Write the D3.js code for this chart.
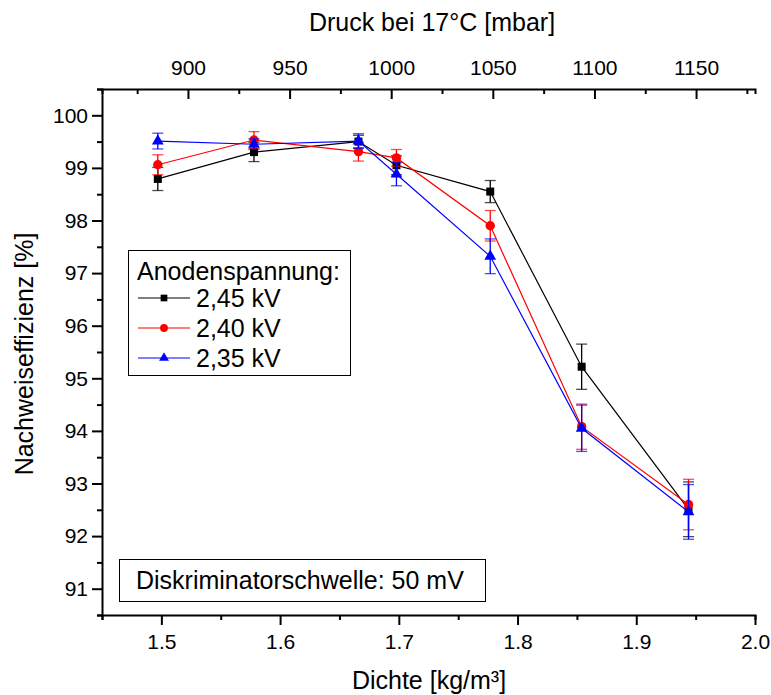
<!DOCTYPE html>
<html><head><meta charset="utf-8">
<script src="https://cdn.jsdelivr.net/npm/d3@7"></script>
<style>body{margin:0;background:#fff;} svg{display:block;} text{font-family:"Liberation Sans",Arial,sans-serif;}</style>
</head><body><svg id="c" width="771" height="695"></svg>
<script>
const density = [1.497, 1.578, 1.666, 1.698, 1.777, 1.854, 1.944];
const seriesNames = ["2,45 kV", "2,40 kV", "2,35 kV"];
const seriesColors = ["#000000", "#ff0000", "#0000ff"];
const eff245 = [98.79, 99.30, 99.50, 99.05, 98.55, 95.22, 92.51];
const err245 = [0.22, 0.18, 0.12, 0.18, 0.21, 0.43, 0.52];
const eff240 = [99.06, 99.53, 99.31, 99.19, 97.90, 94.08, 92.60];
const err240 = [0.19, 0.16, 0.18, 0.16, 0.29, 0.43, 0.48];
const eff235 = [99.51, 99.45, 99.51, 98.88, 97.32, 94.05, 92.46];
const err235 = [0.15, 0.10, 0.14, 0.22, 0.33, 0.44, 0.52];
const xTicks = [1.5, 1.6, 1.7, 1.8, 1.9, 2.0];
const yTicks = [91, 92, 93, 94, 95, 96, 97, 98, 99, 100];
const pTicks = [900, 950, 1000, 1050, 1100, 1150];

const svg = d3.select("#c");
const L = 102, R = 755, T = 89, B = 615;
const x = d3.scaleLinear().domain([1.45, 2.0]).range([L, R]);
const xp = d3.scaleLinear().domain([857.7, 1179.0]).range([L, R]);
const y = d3.scaleLinear().domain([90.5, 100.5]).range([B, T]);

// axes
const gBottom = svg.append("g").attr("transform", `translate(0,${B})`);
gBottom.call(d3.axisBottom(x).tickValues(d3.range(1.45, 2.001, 0.05)).tickSize(5).tickFormat(""));
gBottom.call(g => g.selectAll(".tick line").filter(d => xTicks.some(t => Math.abs(t - d) < 1e-6)).attr("y2", 10));
const gBl = svg.append("g").attr("transform", `translate(0,${B})`);
gBl.call(d3.axisBottom(x).tickValues(xTicks).tickSize(0).tickPadding(19).tickFormat(d3.format(".1f")));
gBl.select(".domain").remove();

const gLeft = svg.append("g").attr("transform", `translate(${L},0)`);
gLeft.call(d3.axisLeft(y).tickValues(d3.range(90.5, 100.51, 0.5)).tickSize(5).tickFormat(""));
gLeft.call(g => g.selectAll(".tick line").filter(d => Math.abs(d - Math.round(d)) < 1e-6).attr("x2", -10));
const gLl = svg.append("g").attr("transform", `translate(${L},0)`);
gLl.call(d3.axisLeft(y).tickValues(yTicks).tickSize(0).tickPadding(14).tickFormat(d3.format("d")));
gLl.select(".domain").remove();

const gTop = svg.append("g").attr("transform", `translate(0,${T})`);
gTop.call(d3.axisBottom(xp).tickValues(d3.range(875, 1176, 25)).tickSize(5).tickFormat(""));
gTop.call(g => g.selectAll(".tick line").filter(d => d % 50 === 0).attr("y2", 10));
const gTl = svg.append("g").attr("transform", `translate(0,${T})`);
gTl.call(d3.axisTop(xp).tickValues(pTicks).tickSize(0).tickPadding(14).tickFormat(d3.format("d")));
gTl.select(".domain").remove();

svg.selectAll(".domain").attr("stroke", "#000").attr("stroke-width", 2);
svg.selectAll(".tick line").attr("stroke", "#000").attr("stroke-width", 2);
svg.selectAll(".tick text").attr("font-size", 21).attr("fill", "#000").attr("font-family", "Liberation Sans, Arial, sans-serif");

// axis titles
svg.append("text").attr("x", 429).attr("y", 689).attr("text-anchor", "middle").attr("font-size", 25).text("Dichte [kg/m³]");
svg.append("text").attr("x", 432).attr("y", 31).attr("text-anchor", "middle").attr("font-size", 25).text("Druck bei 17°C [mbar]");
svg.append("text").attr("transform", `translate(33,${(T+B)/2 + 2}) rotate(-90)`).attr("text-anchor", "middle").attr("font-size", 25).text("Nachweiseffizienz [%]");

// data
const series = [
  {name: seriesNames[0], color: seriesColors[0], vals: eff245, errs: err245, sym: d3.symbolSquare, size: 64},
  {name: seriesNames[1], color: seriesColors[1], vals: eff240, errs: err240, sym: d3.symbolCircle, size: 70},
  {name: seriesNames[2], color: seriesColors[2], vals: eff235, errs: err235, sym: d3.symbolTriangle, size: 60}
];
const line = d3.line().x(d => x(d[0])).y(d => y(d[1]));
series.forEach(s => {
  const g = svg.append("g");
  const pts = density.map((d, i) => [d, s.vals[i], s.errs[i]]);
  g.append("path").attr("d", line(pts)).attr("fill", "none").attr("stroke", s.color).attr("stroke-width", 1.2);
  pts.forEach(p => {
    const cx = x(p[0]), y1 = y(p[1] + p[2]), y2 = y(p[1] - p[2]);
    g.append("line").attr("x1", cx).attr("x2", cx).attr("y1", y1).attr("y2", y2).attr("stroke", s.color).attr("stroke-width", 1.3);
    [y1, y2].forEach(yy => g.append("line").attr("x1", cx - 5.5).attr("x2", cx + 5.5).attr("y1", yy).attr("y2", yy)
      .attr("stroke", s.color).attr("stroke-width", 1.3).attr("stroke-opacity", 0.7));
    g.append("path").attr("d", d3.symbol(s.sym, s.size)()).attr("transform", `translate(${cx},${y(p[1])})`).attr("fill", s.color);
  });
});

// legend
const lg = svg.append("g");
lg.append("rect").attr("x", 128.5).attr("y", 250.5).attr("width", 222).attr("height", 125).attr("fill", "#fff").attr("stroke", "#000").attr("stroke-width", 1);
lg.append("text").attr("x", 137).attr("y", 280).attr("font-size", 25).text("Anodenspannung:");
series.forEach((s, i) => {
  const yy = 298 + i * 30;
  lg.append("line").attr("x1", 138).attr("x2", 190).attr("y1", yy).attr("y2", yy).attr("stroke", s.color).attr("stroke-width", 1.2);
  lg.append("path").attr("d", d3.symbol(s.sym, s.size * 0.7)()).attr("transform", `translate(164,${yy})`).attr("fill", s.color);
  lg.append("text").attr("x", 196).attr("y", yy + 9).attr("font-size", 25).text(s.name);
});

// annotation box
svg.append("rect").attr("x", 119.5).attr("y", 559.5).attr("width", 366).attr("height", 42).attr("fill", "#fff").attr("stroke", "#000").attr("stroke-width", 1);
svg.append("text").attr("x", 136).attr("y", 589).attr("font-size", 25).text("Diskriminatorschwelle: 50 mV");
</script></body></html>
